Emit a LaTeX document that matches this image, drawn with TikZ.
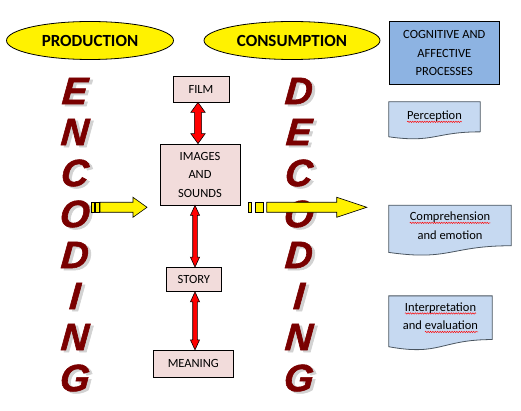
\documentclass[tikz,border=0pt]{standalone}
\usepackage{fontspec}
\setmainfont{Carlito}
\newfontfamily\letterfont[BoldItalicFeatures={FakeBold=1.6,FakeSlant=0.08}]{Liberation Sans}
\usetikzlibrary{shapes.geometric,backgrounds,calc,decorations.pathmorphing}

\definecolor{boxpink}{HTML}{F2DCDB}
\definecolor{procblue}{HTML}{8DB3E2}
\definecolor{docblue}{HTML}{C6D9F1}
\definecolor{docedge}{HTML}{4A5560}
\definecolor{letterred}{HTML}{7A0000}

% red wavy underline
\newcommand\spell[1]{\tikz[baseline=(sw.base)]{%
  \node[shape=rectangle, draw=none, fill=none, inner sep=0pt, outer sep=0pt, minimum size=0pt] (sw) {#1};
  \draw[red, line width=0.45pt, decorate, decoration={snake, amplitude=0.7pt, segment length=2.4pt}]
    ([yshift=-2.3pt]sw.base west) -- ([yshift=-2.3pt]sw.base east);}}

\tikzset{
  oval/.style={ellipse, draw, fill=yellow, line width=0.8pt, inner sep=0pt, font=\fontsize{17}{20}\selectfont\bfseries},
  stage/.style={draw, fill=boxpink, line width=0.8pt, inner sep=0pt, align=center, font=\fontsize{12.5}{18.5}\selectfont},
  process/.style={stage, fill=procblue},
  doctext/.style={inner sep=0pt, align=center, font=\fontsize{12.5}{18.5}\selectfont},
  docline/.style={draw=docedge, fill=docblue, line width=0.8pt},
  redarrow/.style={draw=black, fill=red, line width=0.6pt},
  yarrow/.style={draw=black, fill=yellow, line width=0.6pt},
  bigletter/.style={font=\fontsize{38}{38}\selectfont\letterfont\bfseries\itshape, text=letterred, inner sep=0pt},
}

% double red arrow from a point down to a node
\newcommand\updown[3][2.3pt]{%
  \path[redarrow] let \p1=(#2), \p2=(#3) in
    (\x1,\y1) -- (\x1+2*#1,\y1-10pt) -- (\x1+#1,\y1-10pt) -- (\x1+#1,\y2+10pt)
    -- (\x1+2*#1,\y2+10pt) -- (\x1,\y2) -- (\x1-2*#1,\y2+10pt) -- (\x1-#1,\y2+10pt)
    -- (\x1-#1,\y1-10pt) -- (\x1-2*#1,\y1-10pt) -- cycle;}

% document outline with wavy bottom
\newcommand\docshape[1]{%
  \begin{scope}[on background layer]
  \path[docline] let \p1=(#1.north west), \p2=(#1.south east) in
    (\x1,\y1) -- (\x2,\y1) -- (\x2,\y2)
    .. controls ({(\x1+\x2)/2},\y2) and ({(\x1+\x2)/2},{\y1+1.107*(\y2-\y1)/0.802}) ..
    (\x1,{\y1+0.934*(\y2-\y1)/0.802}) -- cycle;
  \end{scope}}

\begin{document}
\begin{tikzpicture}[x=1pt,y=-1pt]
  \useasboundingbox (0,0) rectangle (521,411);

  \node[oval, minimum width=167, minimum height=38] (prod) at (90,40.5) {PRODUCTION};
  \node[oval, minimum width=176, minimum height=38] (cons) at (292,40.5) {CONSUMPTION};

  \node[process, minimum width=110, minimum height=63] (cogn) at (444.3,53.3) {COGNITIVE AND\\AFFECTIVE\\PROCESSES};

  \node[doctext, minimum width=91, minimum height=29.7] (perc) at (434.5,116.8) {\spell{Perception}};
  \docshape{perc}
  \node[doctext, minimum width=122, minimum height=40.1] (comp) at (450,225.5) {\spell{Comprehension}\\and emotion};
  \docshape{comp}
  \node[doctext, minimum width=103, minimum height=43.3] (intp) at (440.5,317.7) {\spell{Interpretation}\\and \spell{evaluation}};
  \docshape{intp}

  % encoding / decoding letters
  \foreach \ch [count=\i] in {E,N,C,O,D,I,N,G} {
    \node[bigletter, text=gray!35] (encs\i) at (77,52+41*\i) {\ch};
    \node[bigletter] (enc\i) at (74,50+41*\i) {\ch};
  }
  \foreach \ch [count=\i] in {D,E,C,O,D,I,N,G} {
    \node[bigletter, text=gray!35] (decs\i) at (301,52+41*\i) {\ch};
    \node[bigletter] (dec\i) at (298,50+41*\i) {\ch};
  }

  \node[stage, minimum width=56, minimum height=26] (film) at (201,89) {FILM};
  \node[stage, minimum width=80, minimum height=61] (img) at (200,174.5) {IMAGES\\AND\\SOUNDS};
  \node[stage, minimum width=55, minimum height=24] (story) at (193.8,279.5) {STORY};
  \node[stage, minimum width=80, minimum height=27] (mean) at (193.3,363.7) {MEANING};

  \updown[3.6pt]{[xshift=-3pt]film.south}{img.north}
  \updown{[xshift=-5pt]img.south}{story.north}
  \updown{[xshift=1.2pt]story.south}{mean.north}

  % yellow arrows
  \coordinate (enctip) at (147,207.3);
  \draw[yarrow] (91.3,202.3) rectangle (94.3,212.3);
  \draw[yarrow] (95.3,202.3) rectangle (99,212.3);
  \draw[yarrow] (100,202.3) -- (133,202.3) -- (133,197.3) -- (enctip) -- (133,217.3) -- (133,212.3) -- (100,212.3) -- cycle;

  \coordinate (dectip) at (366.7,207.3);
  \draw[yarrow] (248.3,202.3) rectangle (251.7,212.3);
  \draw[yarrow] (255,202.3) rectangle (263.3,212.3);
  \draw[yarrow] (266.7,202.3) -- (336.7,202.3) -- (336.7,197.3) -- (dectip) -- (336.7,217.3) -- (336.7,212.3) -- (266.7,212.3) -- cycle;
\end{tikzpicture}
\end{document}
